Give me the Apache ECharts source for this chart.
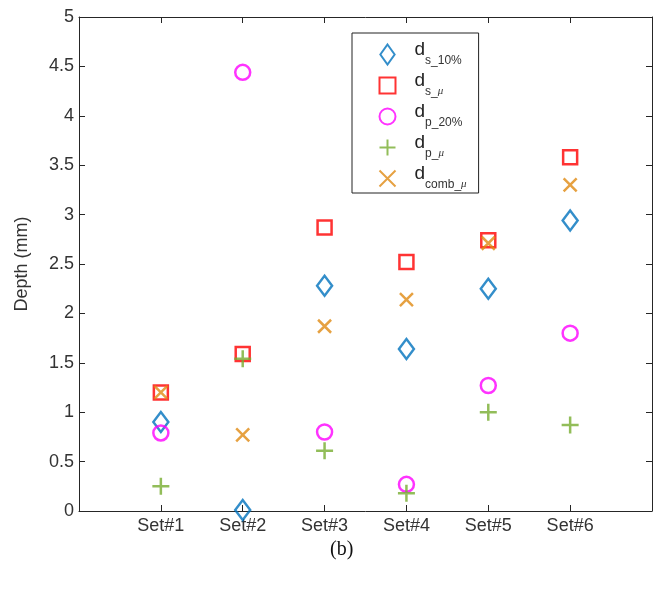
<!DOCTYPE html>
<html>
<head>
<meta charset="utf-8">
<script src="https://cdn.jsdelivr.net/npm/echarts@6/dist/echarts.min.js"></script>
<style>
html,body{margin:0;padding:0;background:#fff;}
#chart{width:656px;height:589px;}
</style>
</head>
<body>
<div id="chart"></div>
<script>
// ---- data ----
const categories = ['Set#1', 'Set#2', 'Set#3', 'Set#4', 'Set#5', 'Set#6'];
const ds10   = [0.90, 0.01, 2.28, 1.64, 2.25, 2.94];
const dsMu   = [1.20, 1.59, 2.87, 2.52, 2.74, 3.58];
const dp20   = [0.79, 4.44, 0.80, 0.27, 1.27, 1.80];
const dpMu   = [0.25, 1.54, 0.61, 0.18, 1.00, 0.87];
const dcombMu = [1.20, 0.77, 1.87, 2.14, 2.71, 3.30];
const yTicks = [0, 0.5, 1, 1.5, 2, 2.5, 3, 3.5, 4, 4.5, 5];
const seriesNames = ['ds10', 'dsmu', 'dp20', 'dpmu', 'dcombmu'];
const legendSubs = {ds10: 's_10%', dsmu: 's_', dp20: 'p_20%', dpmu: 'p_', dcombmu: 'comb_'};
const legendMu = {ds10: '', dsmu: 'μ', dp20: '', dpmu: 'μ', dcombmu: 'μ'};

function pts(arr) { return arr.map((v, i) => [i + 1, v]); }

const axisColor = '#262626';
const font = 'Liberation Sans, Arial, Helvetica, sans-serif';

const SYM_DIAMOND = 'path://M5,0L10,7L5,14L0,7Z';
const SYM_SQUARE = 'path://M0,0L10,0L10,10L0,10Z';
const SYM_PLUS = 'path://M5,0L5,10M0,5L10,5';
const SYM_X = 'path://M0,0L10,10M0,10L10,0';

function mk(name, data, symbol, size, color) {
  return {
    name: name, type: 'scatter', data: pts(data),
    symbol: symbol, symbolSize: size,
    itemStyle: {color: 'none', borderColor: color, borderWidth: 2.5},
    emphasis: {disabled: true}
  };
}

function axisCommon() {
  return {
    axisLine: {show: true, onZero: false, lineStyle: {color: axisColor, width: 1}},
    axisTick: {show: true, inside: true, length: 6, lineStyle: {color: axisColor}},
    splitLine: {show: false}
  };
}

const chart = echarts.init(document.getElementById('chart'), null, {renderer: 'canvas'});
const option = {
  animation: false,
  backgroundColor: '#fff',
  grid: {left: 79, right: 4, top: 17, bottom: 78, containLabel: false},
  xAxis: [Object.assign(axisCommon(), {
    type: 'value', min: 0, max: 7, interval: 1, position: 'bottom',
    axisLabel: {
      color: '#333', fontSize: 18, fontFamily: font, margin: 6,
      formatter: v => categories[v - 1] || ''
    }
  }), Object.assign(axisCommon(), {
    type: 'value', min: 0, max: 7, interval: 1, position: 'top',
    axisLabel: {show: false}
  })],
  yAxis: [Object.assign(axisCommon(), {
    type: 'value', min: 0, max: 5, interval: 0.5, position: 'left',
    name: 'Depth (mm)', nameLocation: 'middle', nameGap: 48,
    nameTextStyle: {color: '#333', fontSize: 18, fontFamily: font},
    axisLabel: {color: '#333', fontSize: 18, fontFamily: font, margin: 5,
      formatter: v => String(v)}
  }), Object.assign(axisCommon(), {
    type: 'value', min: 0, max: 5, interval: 0.5, position: 'right',
    axisLabel: {show: false}
  })],
  legend: {
    orient: 'vertical', left: 352, top: 33,
    backgroundColor: '#fff',
    borderColor: '#222', borderWidth: 1,
    padding: [7, 12, 0, 25],
    itemWidth: 16, itemHeight: 20, itemGap: 2,
    symbolKeepAspect: true,
    data: seriesNames,
    formatter: name => '{d|d}{s|' + legendSubs[name] + '}{m|' + legendMu[name] + '}',
    textStyle: {
      rich: {
        d: {fontSize: 19, fontFamily: font, color: '#222', padding: [0, 0, 10, 14], lineHeight: 16},
        s: {fontSize: 12, fontFamily: font, color: '#333', padding: [12, 0, 0, 0], lineHeight: 14},
        m: {fontSize: 11, fontFamily: 'Liberation Serif, serif', fontStyle: 'italic', color: '#333', padding: [12, 0, 0, 0], lineHeight: 14}
      }
    }
  },
  graphic: [{
    type: 'text', left: 330, top: 540,
    style: {text: '(b)', fontSize: 20, fontFamily: 'Liberation Serif, Times New Roman, serif', fill: '#111'}
  }],
  series: [
    mk('ds10', ds10, SYM_DIAMOND, [15, 20], '#0072BD'),
    mk('dsmu', dsMu, SYM_SQUARE, 14, '#FF0000'),
    mk('dp20', dp20, 'circle', 15, '#FF00FF'),
    mk('dpmu', dpMu, SYM_PLUS, 17, '#77AC30'),
    mk('dcombmu', dcombMu, SYM_X, 13, '#E08A12')
  ]
};
chart.setOption(option);
</script>
</body>
</html>
